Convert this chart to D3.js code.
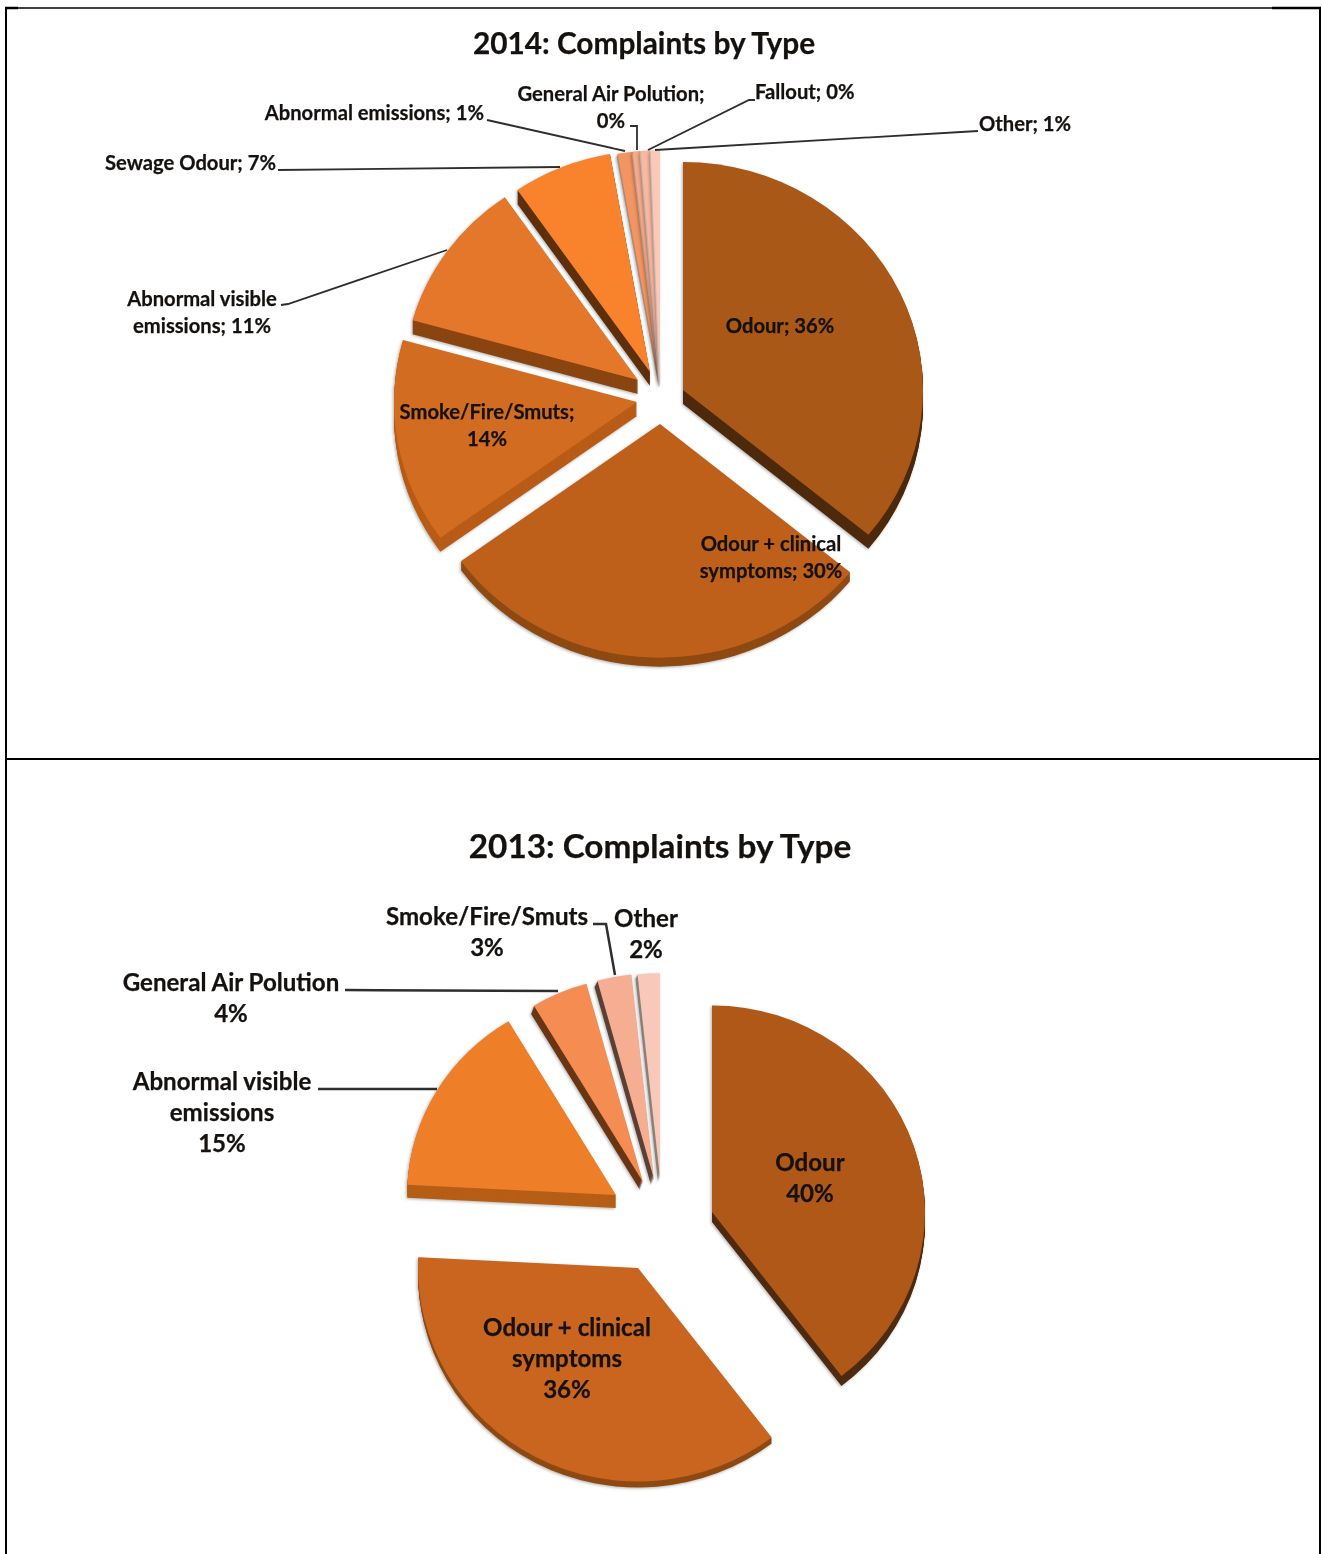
<!DOCTYPE html>
<html><head><meta charset="utf-8">
<script src="https://cdn.jsdelivr.net/npm/d3@7/dist/d3.min.js"></script>
<style>html,body{margin:0;padding:0;background:#fff}svg{display:block}
text{font-family:Lato,"Open Sans",sans-serif;font-weight:700;fill:#14110f;stroke:#14110f;stroke-width:.25px}
.soft{filter:blur(.45px)}</style>
</head><body><svg id="c" width="1322" height="1554"></svg>
<script>
// ---- data ----
const categories2014 = ["Odour","Odour + clinical symptoms","Smoke/Fire/Smuts","Abnormal visible emissions","Sewage Odour","Abnormal emissions","General Air Polution","Fallout","Other"];
const percentLabels2014 = [36,30,14,11,7,1,0,0,1];
const drawnShare2014 = [36,29.1,14.35,11.05,6.9,1,0.5,0.65,0.6];
const categories2013 = ["Odour","Odour + clinical symptoms","Abnormal visible emissions","General Air Polution","Smoke/Fire/Smuts","Other"];
const percentLabels2013 = [40,36,15,4,3,2];
const drawnShare2013 = [39.6,36.2,15.6,4.3,2.6,1.7];

// ---- styles and layout ----
const faceColors2014 = ["#aa5818","#bf601a","#d26c20","#e4772a","#f9822c","#f29560","#f5ab8c","#f7b9a2","#f9c8b8"];
const wallColors2014 = ["#4e2a0d","#8e4a12","#b85c17","#8a4510","#5e300c","#b08a76","#c0a090","#c8b0a4","#c8b8b0"];
const faceColors2013 = ["#b05818","#c9651f","#ee7f28","#f58d52","#f6ae93","#f8c8ba"];
const wallColors2013 = ["#4f2c10","#8e4a12","#b65e16","#6a3614","#5c4034","#8a8078"];

const chart2014 = {
  title:"2014: Complaints by Type", titleX:644, titleY:54, titleSize:29.8, labelSize:20.2,
  cats:categories2014, pct:percentLabels2014, share:drawnShare2014, sep:"; ",
  face:faceColors2014, wall:wallColors2014, k:0.95,
  apex:[[683,390],[660,424],[637,402],[638,380],[650,372],[660,385],[660,385],[660,385],[660,385]],
  radius:[240,246,243,234,233,247,247,247,247],
  depth:[14,9,14,14,14,3,3,3,3], wallDx:[0,0,0,0,0,-1,-1,-1,-1],
  labels:[
    {x:780,y:333,lines:[2]},
    {x:771,y:551,lines:[3,2]},
    {x:487,y:419,lines:[1,1]},
    {x:202,y:306,lines:[2,2]},
    {x:276,y:170,a:"end",lines:[4]},
    {x:484,y:120,a:"end",lines:[4]},
    {x:611,y:101,lines:[3,1]},
    {x:755,y:99,a:"start",lines:[2]},
    {x:979,y:131,a:"start",lines:[2]}],
  lineH:27, leaderW:1.8,
  leaders:[
    [[278,170],[560,167]],
    [[281,305],[288,304],[447,250]],
    [[487,120],[625,151]],
    [[630,126],[637,126],[637,150]],
    [[755,100],[749,100],[648,150]],
    [[978,131],[655,150]]]
};
const chart2013 = {
  title:"2013: Complaints by Type", titleX:660, titleY:858, titleSize:33.3, labelSize:24.1,
  cats:categories2013, pct:percentLabels2013, share:drawnShare2013, sep:" ",
  face:faceColors2013, wall:wallColors2013, k:0.97,
  apex:[[712,1212],[638,1268],[616,1195],[643,1182],[654,1179],[660,1178]],
  radius:[213,220,209,212,212,211],
  depth:[10,6,13,8,6,4], wallDx:[0,0,0,-3,-3,-2],
  labels:[
    {x:810,y:1171,lines:[1,1]},
    {x:567,y:1336,lines:[3,1,1]},
    {x:222,y:1090,lines:[2,1,1]},
    {x:231,y:991,lines:[3,1]},
    {x:487,y:925,lines:[1,1]},
    {x:646,y:927,lines:[1,1]}],
  lineH:31, leaderW:2.5,
  leaders:[
    [[345,990],[558,991]],
    [[318,1089],[437,1089]],
    [[593,924],[606,924],[615,975]]]
};

const svg = d3.select("#c");
const lineGen = d3.line();

function drawChart(c){
  const g = svg.append("g").attr("class","soft");
  const pie = d3.pie().sort(null).value(d=>d)(c.share);
  pie.forEach((d,i)=>{
    const arc = d3.arc().innerRadius(0).outerRadius(c.radius[i]);
    const path = arc(d);
    const [ax,ay] = c.apex[i];
    const s = g.append("g").style("filter","drop-shadow(-1px 1px 1.5px rgba(0,0,0,.3))");
    const steps = d3.range(c.depth[i],0,-1);
    s.selectAll("path.w").data(steps).join("path").attr("class","w")
      .attr("d",path).attr("fill",c.wall[i])
      .attr("transform",n=>`translate(${ax+c.wallDx[i]*n/c.depth[i]},${ay+n}) scale(1,${c.k})`);
    s.append("path").attr("d",path).attr("fill",c.face[i])
      .attr("transform",`translate(${ax},${ay}) scale(1,${c.k})`);
  });
  g.selectAll("path.l").data(c.leaders).join("path").attr("class","l")
    .attr("d",lineGen).attr("fill","none").attr("stroke","#2e2e2e").attr("stroke-width",c.leaderW);
  g.append("text").attr("x",c.titleX).attr("y",c.titleY).attr("text-anchor","middle")
    .attr("font-size",c.titleSize).text(c.title);
  c.labels.forEach((l,i)=>{
    const words = `${c.cats[i]}${c.sep}${c.pct[i]}%`.split(" ");
    let p = 0;
    l.lines.forEach((n,j)=>{
      g.append("text").attr("x",l.x).attr("y",l.y+j*c.lineH)
        .attr("text-anchor",l.a||"middle").attr("font-size",c.labelSize)
        .text(words.slice(p,p+n).join(" "));
      p += n;
    });
  });
}
drawChart(chart2014);
drawChart(chart2013);

// table borders
const borders = [
  {p:[[5,8],[18,8]],w:2.5},
  {p:[[18,8],[1272,8]],w:1.5},
  {p:[[1272,8],[1321,8]],w:2.5},
  {p:[[6,7],[6,1554]],w:2},
  {p:[[1320,7],[1320,1554]],w:2},
  {p:[[6,759],[1320,759]],w:2}];
svg.selectAll("path.b").data(borders).join("path").attr("class","b")
  .attr("d",d=>lineGen(d.p)).attr("stroke","#000").attr("stroke-width",d=>d.w).attr("fill","none");
</script></body></html>
